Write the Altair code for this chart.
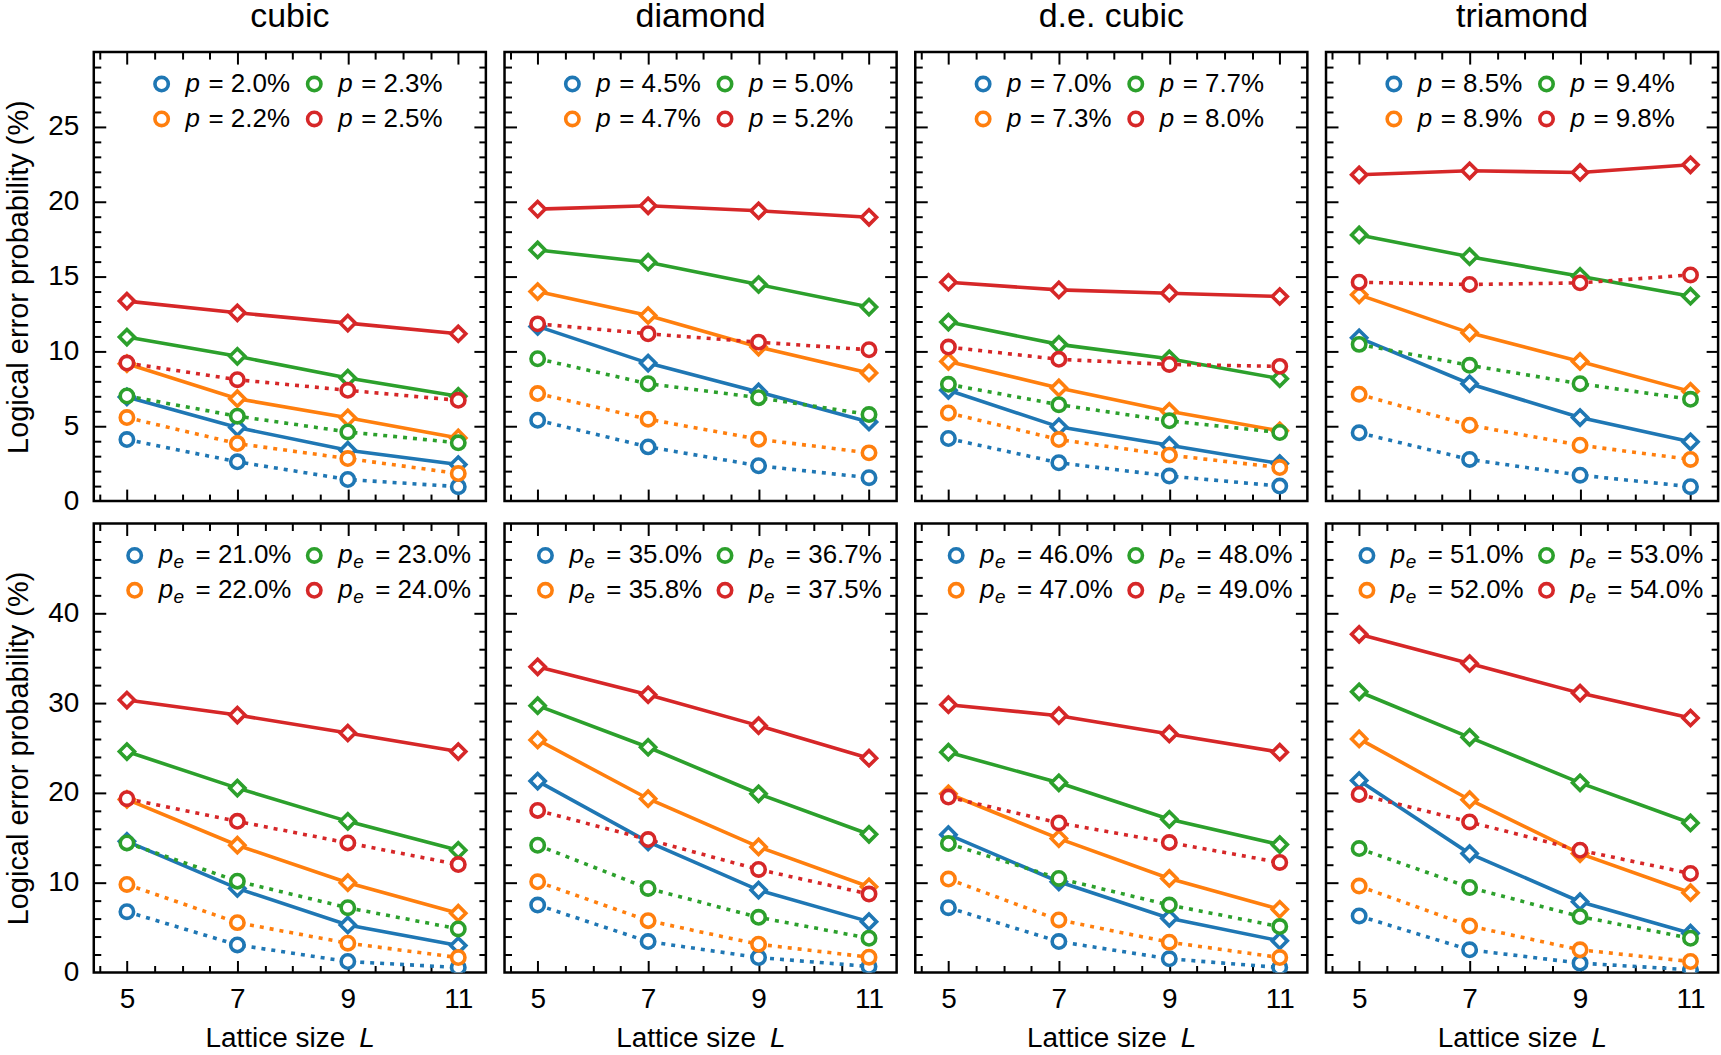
import altair as alt
import pandas as pd

FONT = "Liberation Sans"
L_VALUES = [5, 7, 9, 11]
COLORS = ["#1f77b4", "#ff7f0e", "#2ca02c", "#d62728"]
SERIES_IDS = ["0", "1", "2", "3"]
LATTICES = ["cubic", "diamond", "d.e. cubic", "triamond"]

# ---- top row (p) : solid/diamond and dotted/circle, series order blue, orange, green, red
cubic_top_solid = [[6.96, 4.91, 3.40, 2.44], [9.18, 6.84, 5.56, 4.22], [10.96, 9.67, 8.22, 7.00], [13.36, 12.58, 11.89, 11.18]]
cubic_top_dotted = [[4.11, 2.62, 1.44, 0.96], [5.58, 3.84, 2.84, 1.84], [7.02, 5.67, 4.62, 3.89], [9.22, 8.11, 7.40, 6.73]]
diamond_top_solid = [[11.67, 9.22, 7.29, 5.29], [14.00, 12.40, 10.29, 8.56], [16.78, 15.96, 14.47, 12.96], [19.51, 19.73, 19.40, 18.96]]
diamond_top_dotted = [[5.40, 3.62, 2.36, 1.56], [7.18, 5.47, 4.13, 3.22], [9.51, 7.84, 6.91, 5.78], [11.84, 11.18, 10.62, 10.11]]
decubic_top_solid = [[7.40, 4.96, 3.73, 2.51], [9.33, 7.56, 6.00, 4.69], [11.96, 10.47, 9.51, 8.18], [14.62, 14.11, 13.89, 13.67]]
decubic_top_dotted = [[4.18, 2.56, 1.67, 1.00], [5.89, 4.11, 3.07, 2.24], [7.80, 6.44, 5.36, 4.58], [10.29, 9.47, 9.13, 9.00]]
triamond_top_solid = [[10.91, 7.84, 5.58, 3.96], [13.78, 11.24, 9.33, 7.33], [17.78, 16.33, 15.02, 13.69], [21.80, 22.07, 21.96, 22.47]]
triamond_top_dotted = [[4.56, 2.78, 1.73, 0.96], [7.13, 5.07, 3.73, 2.78], [10.47, 9.07, 7.84, 6.80], [14.62, 14.47, 14.58, 15.11]]

# ---- bottom row (p_e)
cubic_bot_solid = [[14.61, 9.36, 5.29, 3.00], [19.27, 14.17, 10.00, 6.60], [24.60, 20.53, 16.83, 13.61], [30.34, 28.67, 26.67, 24.60]]
cubic_bot_dotted = [[6.77, 3.07, 1.22, 0.55], [9.80, 5.55, 3.26, 1.66], [14.43, 10.17, 7.21, 4.85], [19.35, 16.83, 14.43, 12.02]]
diamond_bot_solid = [[21.31, 14.54, 9.17, 5.66], [25.90, 19.35, 13.98, 9.54], [29.71, 25.08, 19.90, 15.39], [34.04, 30.93, 27.49, 23.86]]
diamond_bot_dotted = [[7.51, 3.44, 1.66, 0.67], [10.10, 5.77, 3.14, 1.70], [14.17, 9.36, 6.14, 3.81], [18.05, 14.80, 11.47, 8.73]]
decubic_bot_solid = [[15.35, 10.10, 6.03, 3.52], [19.90, 14.91, 10.47, 7.03], [24.53, 21.12, 17.06, 14.24], [29.82, 28.60, 26.56, 24.53]]
decubic_bot_dotted = [[7.21, 3.44, 1.52, 0.55], [10.40, 5.85, 3.37, 1.66], [14.35, 10.47, 7.51, 5.11], [19.53, 16.65, 14.47, 12.25]]
triamond_bot_solid = [[21.38, 13.24, 7.88, 4.37], [26.01, 19.24, 13.24, 8.88], [31.26, 26.19, 21.12, 16.65], [37.66, 34.41, 31.11, 28.34]]
triamond_bot_dotted = [[6.29, 2.52, 1.04, 0.30], [9.62, 5.18, 2.52, 1.22], [13.80, 9.47, 6.22, 3.81], [19.83, 16.76, 13.61, 11.02]]

# ---- legend values (%)
top_legend = [["2.0", "2.2", "2.3", "2.5"], ["4.5", "4.7", "5.0", "5.2"], ["7.0", "7.3", "7.7", "8.0"], ["8.5", "8.9", "9.4", "9.8"]]
bot_legend = [["21.0", "22.0", "23.0", "24.0"], ["35.0", "35.8", "36.7", "37.5"], ["46.0", "47.0", "48.0", "49.0"], ["51.0", "52.0", "53.0", "54.0"]]

top_solid = [cubic_top_solid, diamond_top_solid, decubic_top_solid, triamond_top_solid]
top_dotted = [cubic_top_dotted, diamond_top_dotted, decubic_top_dotted, triamond_top_dotted]
bot_solid = [cubic_bot_solid, diamond_bot_solid, decubic_bot_solid, triamond_bot_solid]
bot_dotted = [cubic_bot_dotted, diamond_bot_dotted, decubic_bot_dotted, triamond_bot_dotted]

W, H = 393, 450
X_DOMAIN = [4.4, 11.5]
LW = 3.6
cscale = alt.Scale(domain=SERIES_IDS, range=COLORS)


def tick_axis(orient, offset, values, test):
    return alt.Axis(orient=orient, offset=offset, values=values, labels=False, domain=False,
                    ticks=True, tickColor="black", tickWidth=2, grid=False, title=None,
                    tickSize={"condition": {"test": test, "value": 12}, "value": 7})


def panel(col, bottom):
    solid = (bot_solid if bottom else top_solid)[col]
    dotted = (bot_dotted if bottom else top_dotted)[col]
    leg = (bot_legend if bottom else top_legend)[col]
    ymax = 50 if bottom else 30
    rows = []
    for s in range(4):
        for i, L in enumerate(L_VALUES):
            rows.append({"L": L, "v": solid[s][i], "sid": SERIES_IDS[s], "kind": "solid"})
            rows.append({"L": L, "v": dotted[s][i], "sid": SERIES_IDS[s], "kind": "dotted"})
    df = pd.DataFrame(rows)
    xs = alt.Scale(domain=X_DOMAIN, nice=False, zero=False)
    ys = alt.Scale(domain=[0, ymax], nice=False, zero=False)

    x_lab = alt.Axis(orient="bottom", values=L_VALUES, ticks=False, domain=False, labelPadding=13,
                     labelFontSize=28, title=None, grid=False) if bottom else None
    if col == 0:
        y_vals = [0, 10, 20, 30, 40] if bottom else [0, 5, 10, 15, 20, 25]
        y_lab = alt.Axis(orient="left", values=y_vals, ticks=False, domain=False, labelPadding=15,
                         labelFontSize=28, title="Logical error probability (%)", titleFontSize=29,
                         titleFontWeight="normal", titlePadding=14, grid=False)
    else:
        y_lab = None

    base = alt.Chart(df)
    solid_line = base.transform_filter("datum.kind == 'solid'").mark_line(strokeWidth=LW, clip=True).encode(
        x=alt.X("L:Q", scale=xs, axis=x_lab), y=alt.Y("v:Q", scale=ys, axis=y_lab),
        color=alt.Color("sid:N", scale=cscale, legend=None))
    solid_pts = base.transform_filter("datum.kind == 'solid'").mark_point(
        shape="diamond", filled=True, fill="white", strokeWidth=LW, size=230, opacity=1, clip=True).encode(
        x=alt.X("L:Q", scale=xs, axis=None), y=alt.Y("v:Q", scale=ys, axis=None),
        stroke=alt.Stroke("sid:N", scale=cscale, legend=None))
    dot_line = base.transform_filter("datum.kind == 'dotted'").mark_line(
        strokeWidth=LW, strokeDash=[4, 6], strokeCap="butt", clip=True).encode(
        x=alt.X("L:Q", scale=xs, axis=None), y=alt.Y("v:Q", scale=ys, axis=None),
        color=alt.Color("sid:N", scale=cscale, legend=None))
    dot_pts = base.transform_filter("datum.kind == 'dotted'").mark_point(
        shape="circle", filled=True, fill="white", strokeWidth=LW, size=180, opacity=1, clip=True).encode(
        x=alt.X("L:Q", scale=xs, axis=None), y=alt.Y("v:Q", scale=ys, axis=None),
        stroke=alt.Stroke("sid:N", scale=cscale, legend=None))

    x_ticks = [4.5 + 0.5 * k for k in range(14)]
    x_test = "datum.value == 5 || datum.value == 7 || datum.value == 9 || datum.value == 11"
    if bottom:
        y_ticks = list(range(2, 50, 2))
        y_test = "datum.value % 10 == 0"
    else:
        y_ticks = list(range(1, 30))
        y_test = "datum.value % 5 == 0"
    ax1 = base.mark_point(opacity=0).encode(
        x=alt.X("L:Q", scale=xs, axis=tick_axis("top", -H, x_ticks, x_test)),
        y=alt.Y("v:Q", scale=ys, axis=tick_axis("right", -W, y_ticks, y_test)))
    ax2 = base.mark_point(opacity=0).encode(
        x=alt.X("L:Q", scale=xs, axis=tick_axis("bottom", -H, x_ticks, x_test)),
        y=alt.Y("v:Q", scale=ys, axis=tick_axis("left", -W, y_ticks, y_test)))

    # legend
    c0 = 41 if bottom else 68
    ldf = pd.DataFrame({"sid": SERIES_IDS, "idx": [0, 1, 2, 3], "txt": ["= " + v + "%" for v in leg]})
    lbase = alt.Chart(ldf).transform_calculate(
        col="datum.idx >= 2 ? 1 : 0", row="datum.idx % 2").transform_calculate(
        px=f"datum.col == 0 ? {c0} : 221", py="datum.row == 0 ? 32 : 67")
    lx = alt.X("px:Q", scale=None, axis=None)
    ly = alt.Y("py:Q", scale=None, axis=None)
    l_circ = lbase.mark_point(shape="circle", filled=True, fill="white", strokeWidth=LW, size=180, opacity=1).encode(
        x=lx, y=ly, stroke=alt.Stroke("sid:N", scale=cscale, legend=None))
    l_p = lbase.mark_text(text="p", align="left", baseline="middle", fontStyle="italic", fontSize=26, dx=24, font=FONT).encode(x=lx, y=ly)
    rest_dx = 61 if bottom else 47
    l_rest = lbase.mark_text(align="left", baseline="middle", fontSize=26, dx=rest_dx, font=FONT).encode(
        x=lx, y=ly, text="txt:N")
    layers = [solid_line, solid_pts, dot_line, dot_pts, ax1, ax2, l_circ, l_p, l_rest]
    if bottom:
        l_e = lbase.mark_text(text="e", align="left", baseline="middle", fontStyle="italic", fontSize=19,
                              dx=39, dy=7, font=FONT).encode(x=lx, y=ly)
        layers.append(l_e)
        one = pd.DataFrame({"k": [0]})
        t1 = alt.Chart(one).mark_text(text="Lattice size", align="left", baseline="middle", fontSize=28, font=FONT).encode(
            x=alt.value(112), y=alt.value(H + 67))
        t2 = alt.Chart(one).mark_text(text="L", align="left", baseline="middle", fontSize=28, fontStyle="italic", font=FONT).encode(
            x=alt.value(266), y=alt.value(H + 67))
        layers += [t1, t2]

    ch = alt.layer(*layers).resolve_axis(x="independent", y="independent").properties(width=W, height=H)
    if not bottom:
        ch = ch.properties(title=alt.Title(LATTICES[col], fontSize=34, font=FONT, fontWeight="normal", offset=17, color="black"))
    return ch


top = alt.hconcat(*[panel(c, False) for c in range(4)], spacing=18.7, bounds="flush")
bot = alt.hconcat(*[panel(c, True) for c in range(4)], spacing=18.7, bounds="flush")
chart = alt.vconcat(top, bot, spacing=3.5).properties(
    padding={"left": 3, "top": -3, "right": 0, "bottom": -3}
).configure(font=FONT).configure_view(stroke="black", strokeWidth=2.5).configure_axis(
    labelFont=FONT, titleFont=FONT, labelColor="black", titleColor="black", grid=False)

chart.save("out.html", embed_options={"renderer": "svg", "actions": False})
